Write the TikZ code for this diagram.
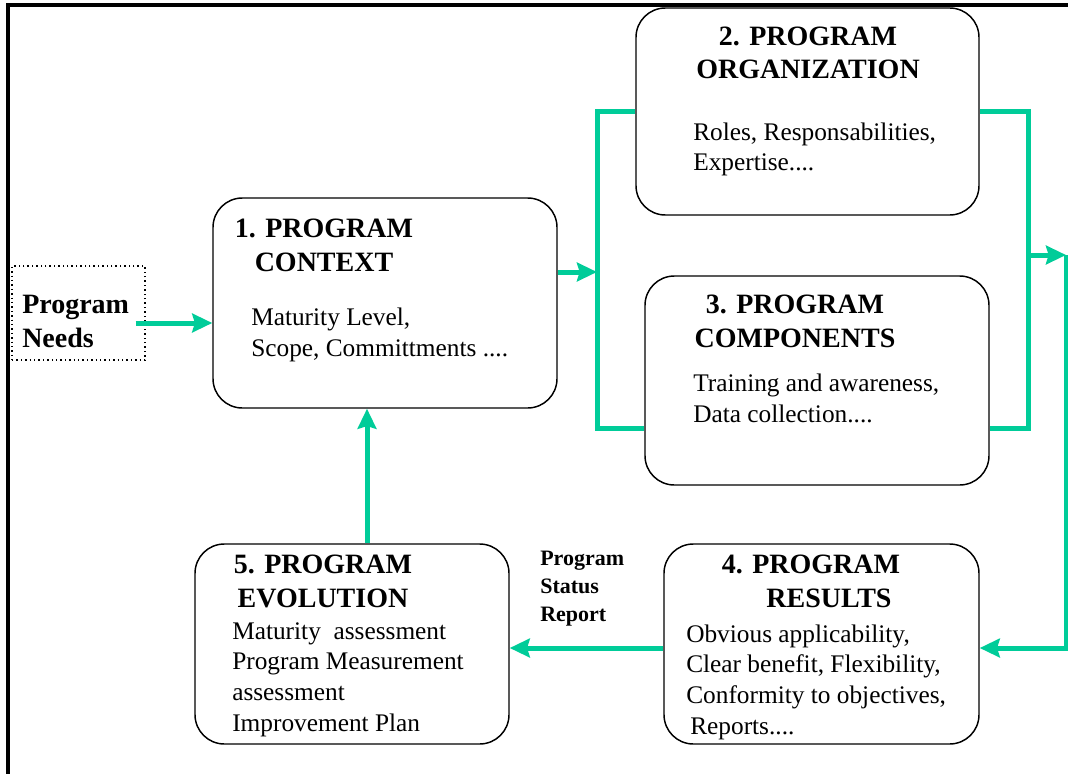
\documentclass[tikz,border=0pt]{standalone}
\usepackage{fontspec}
\setmainfont{Liberation Serif}
\usetikzlibrary{arrows.meta,fit}
\definecolor{flowgreen}{RGB}{0,204,153}

\tikzset{
	box/.style={draw, line width=1.1pt, rounded corners=22pt, inner sep=0pt},
	needbox/.style={draw, line width=1.1pt, dash pattern=on 1.1pt off 2.2pt, inner sep=0pt},
	head/.style={font=\fontsize{21}{25}\selectfont\bfseries, align=center, anchor=base, inner sep=0pt},
	body/.style={font=\fontsize{19}{23}\selectfont, align=left, anchor=base west, inner sep=0pt},
	flow/.style={color=flowgreen, line width=3.75pt},
}

\begin{document}
\begin{tikzpicture}[x=0.75pt, y=-0.75pt, >={Stealth[length=15pt,width=14pt,inset=2pt]}]
	\useasboundingbox (0,0) rectangle (1068,774);
	\draw[line width=2.5pt] (1068,5) -- (8,5) -- (8,774);
	% boxes
	\node[needbox, fit={(12,266) (145,360)}] (needs) {};
	\node[box, fit={(213,198) (557,408)}] (ctx) {};
	\node[box, fit={(636,8) (979,215)}] (org) {};
	\node[box, fit={(645,276) (989,485)}] (comp) {};
	\node[box, fit={(664,544) (979,744)}] (res) {};
	\node[box, fit={(195,544) (509,744)}] (evo) {};
	% texts (placed at the baseline of their last line)
	\node[head, anchor=base west, align=left] (needtxt) at (22,347) {Program\\Needs};
	\node[head] (ctxhead) at (324,271) {1. PROGRAM\\CONTEXT};
	\node[body] (ctxbody) at (251,356) {Maturity Level,\\Scope, Committments ....};
	\node[head] (orghead) at (808,79) {2. PROGRAM\\ORGANIZATION};
	\node[body] (orgbody) at (693,171) {Roles, Responsabilities,\\Expertise....};
	\node[head] (comphead) at (795,347) {3. PROGRAM\\COMPONENTS};
	\node[body] (compbody) at (693,422) {Training and awareness,\\Data collection....};
	\node[head] (reshead) at (811,607) {4. PROGRAM\\\hspace*{27pt}RESULTS};
	\node[body] (resbody) at (686,734) {Obvious applicability,\\Clear benefit, Flexibility,\\Conformity to objectives,\\\hspace*{3pt}Reports....};
	\node[head] (evohead) at (323,607) {5. PROGRAM\\EVOLUTION};
	\node[body] (evobody) at (232,731) {Maturity\ \ assessment\\Program Measurement\\assessment\\Improvement Plan};
	\node[head, anchor=base west, font=\fontsize{16.5}{21}\selectfont\bfseries, align=left] (status) at (540,621) {Program\\Status\\Report};
	% connectors
	\coordinate (jl) at (597,428);
	\coordinate (jr) at (1028,428);
	\coordinate (jout) at (1066,255);
	\coordinate (c1) at ([shift={(0,-31)}]ctx.east);
	\coordinate (c2) at ([shift={(0,4)}]res.east);
	\draw[flow,->] ([shift={(-10,10)}]needs.east) -- ([shift={(0,20)}]ctx.west);
	\draw[flow,->] (c1) -- (c1 -| jl);
	\draw[flow] (org.west) -| (jl) -- (comp.west |- jl);
	\draw[flow] (org.east) -| (jr) -- (comp.east |- jr);
	\draw[flow,->] (jout -| jr) -- (jout);
	\draw[flow,->] (jout) |- (c2);
	\draw[flow,->] ([shift={(0,4)}]res.west) -- ([shift={(0,4)}]evo.east);
	\draw[flow,->] ([shift={(15,0)}]evo.north) -- ([shift={(-18,0)}]ctx.south);
\end{tikzpicture}
\end{document}
